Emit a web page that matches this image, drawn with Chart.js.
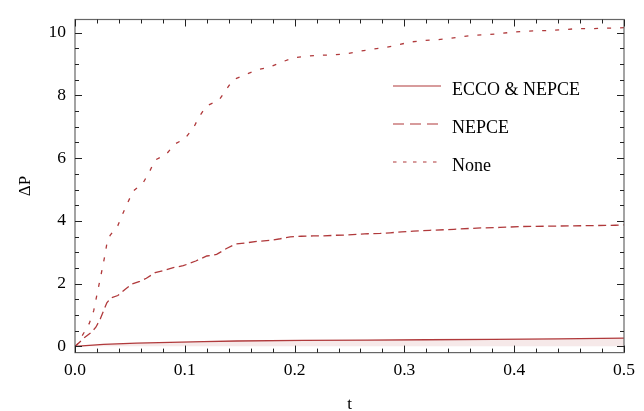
<!DOCTYPE html>
<html lang="en">
<head>
  <meta charset="UTF-8" />
  <title>Delta P vs t</title>
  <script src="https://cdn.jsdelivr.net/npm/chart.js"></script>
  <style>
    html, body { margin: 0; padding: 0; background: #fff; }
    #wrap { width: 644px; height: 411px; position: relative; }
  </style>
</head>
<body>
  <div id="wrap"><canvas id="chart" width="644" height="411"></canvas></div>

  <script>
    // tick labels
    const xTicks = [0, 0.1, 0.2, 0.3, 0.4, 0.5];
    const yTicks = [0, 2, 4, 6, 8, 10];

    // series names
    const seriesNames = ['ECCO & NEPCE', 'NEPCE', 'None'];

    // ECCO & NEPCE (solid)
    const tEcco = [0, 0.026, 0.056, 0.0865, 0.117, 0.147, 0.208, 0.266, 0.32, 0.381, 0.44, 0.5];
    const vEcco = [0, 0.06, 0.10, 0.125, 0.15, 0.17, 0.19, 0.20, 0.21, 0.22, 0.24, 0.26];

    // NEPCE (dashed)
    const tNepce = [0, 0.002, 0.009, 0.015, 0.019, 0.023, 0.026, 0.029, 0.033, 0.039,
      0.0455, 0.052, 0.059, 0.065, 0.073, 0.080, 0.0895, 0.0986, 0.110, 0.120,
      0.129, 0.138, 0.146, 0.156, 0.167, 0.178, 0.187, 0.196, 0.206, 0.217,
      0.226, 0.237, 0.247, 0.2565, 0.267, 0.278, 0.287, 0.2975, 0.308, 0.323,
      0.345, 0.366, 0.387, 0.408, 0.430, 0.451, 0.472, 0.492, 0.5];
    const vNepce = [0, 0.06, 0.29, 0.45, 0.61, 0.87, 1.13, 1.39, 1.55, 1.62,
      1.81, 1.99, 2.07, 2.17, 2.35, 2.41, 2.51, 2.57, 2.72, 2.88,
      2.93, 3.12, 3.26, 3.30, 3.35, 3.38, 3.43, 3.49, 3.51, 3.52,
      3.52, 3.54, 3.55, 3.57, 3.59, 3.60, 3.62, 3.65, 3.67, 3.70,
      3.73, 3.77, 3.79, 3.82, 3.83, 3.84, 3.85, 3.86, 3.87];

    // None (dotted)
    const tNone = [0, 0.002, 0.0076, 0.013, 0.017, 0.020, 0.024, 0.027, 0.029, 0.032,
      0.039, 0.044, 0.048, 0.053, 0.062, 0.068, 0.073, 0.083, 0.091, 0.100,
      0.108, 0.113, 0.120, 0.131, 0.1375, 0.144, 0.155, 0.166, 0.177, 0.188,
      0.199, 0.211, 0.223, 0.235, 0.246, 0.258, 0.270, 0.281, 0.293, 0.305,
      0.317, 0.329, 0.340, 0.352, 0.364, 0.376, 0.387, 0.399, 0.411, 0.424,
      0.436, 0.446, 0.458, 0.471, 0.483, 0.5];
    const vNone = [0, 0.06, 0.4, 0.73, 1.13, 1.65, 2.33, 2.86, 3.27, 3.54,
      3.85, 4.27, 4.58, 4.95, 5.21, 5.58, 5.94, 6.12, 6.45, 6.62,
      6.97, 7.32, 7.67, 7.84, 8.17, 8.5, 8.66, 8.82, 8.9, 9.06,
      9.2, 9.25, 9.28, 9.29, 9.32, 9.4, 9.47, 9.52, 9.6, 9.7,
      9.75, 9.77, 9.81, 9.87, 9.92, 9.94, 9.97, 10.02, 10.05, 10.06,
      10.08, 10.1, 10.13, 10.13, 10.14, 10.16];

    const RED = '#b0393b';
    const FONT = 'Liberation Serif, Times New Roman, serif';
    const pts = (ts, vs) => ts.map((t, i) => ({ x: t, y: vs[i] }));

    // frame with inward ticks on all four sides
    const framePlugin = {
      id: 'frame',
      afterDraw(chart) {
        const { ctx, chartArea: a, scales: { x, y } } = chart;
        ctx.save();
        ctx.strokeStyle = '#666';
        ctx.lineWidth = 1.2;
        ctx.strokeRect(a.left, a.top, a.right - a.left, a.bottom - a.top);
        ctx.strokeStyle = '#222';
        ctx.lineWidth = 1;
        ctx.beginPath();
        for (let i = 0; i <= 25; i++) {
          const v = i * 0.02;
          const px = Math.round(x.getPixelForValue(v)) + 0.5;
          const len = i % 5 === 0 ? 7 : 4;
          ctx.moveTo(px, a.bottom); ctx.lineTo(px, a.bottom - len);
          ctx.moveTo(px, a.top); ctx.lineTo(px, a.top + len);
        }
        for (let i = 0; i <= 20; i++) {
          const v = i * 0.5;
          const py = Math.round(y.getPixelForValue(v)) + 0.5;
          const len = i % 4 === 0 ? 7 : 4;
          ctx.moveTo(a.left, py); ctx.lineTo(a.left + len, py);
          ctx.moveTo(a.right, py); ctx.lineTo(a.right - len, py);
        }
        ctx.stroke();
        ctx.restore();
      }
    };

    // legend inside the plot
    const legendPlugin = {
      id: 'inlineLegend',
      afterDraw(chart) {
        const { ctx } = chart;
        const rows = [
          { lineY: 86, textY: 90, dash: [] },
          { lineY: 124, textY: 128, dash: [11, 6] },
          { lineY: 162, textY: 166, dash: [3.5, 6.5] }
        ];
        ctx.save();
        rows.forEach((r, i) => {
          ctx.strokeStyle = RED;
          ctx.lineWidth = 1.2;
          ctx.setLineDash(r.dash);
          ctx.beginPath();
          ctx.moveTo(393, r.lineY);
          ctx.lineTo(441, r.lineY);
          ctx.stroke();
          ctx.setLineDash([]);
          ctx.fillStyle = '#000';
          ctx.font = '18px ' + FONT;
          ctx.textBaseline = 'middle';
          ctx.textAlign = 'left';
          ctx.fillText(seriesNames[i], 452, r.textY);
        });
        ctx.restore();
      }
    };

    new Chart(document.getElementById('chart'), {
      type: 'line',
      data: {
        datasets: [
          {
            label: seriesNames[0],
            data: pts(tEcco, vEcco),
            borderColor: RED,
            borderWidth: 1.3,
            backgroundColor: 'rgba(176, 57, 59, 0.11)',
            fill: 'origin'
          },
          {
            label: seriesNames[1],
            data: pts(tNepce, vNepce),
            borderColor: RED,
            borderWidth: 1.3,
            borderDash: [8, 4.5],
            fill: false
          },
          {
            label: seriesNames[2],
            data: pts(tNone, vNone),
            borderColor: RED,
            borderWidth: 1.3,
            borderDash: [4, 9],
            fill: false
          }
        ]
      },
      options: {
        responsive: false,
        animation: false,
        devicePixelRatio: 1,
        layout: { padding: { top: 14, right: 20, left: 0, bottom: 0 } },
        elements: { point: { radius: 0 }, line: { tension: 0 } },
        plugins: { legend: { display: false }, tooltip: { enabled: false } },
        scales: {
          x: {
            type: 'linear',
            min: 0,
            max: 0.5,
            afterBuildTicks: s => { s.ticks = xTicks.map(v => ({ value: v })); },
            afterFit: s => { s.height = 58.4; },
            grid: { display: false, drawTicks: false },
            border: { display: false },
            ticks: {
              padding: 7,
              color: '#000',
              maxRotation: 0,
              font: { family: FONT, size: 17.5 },
              callback: v => v.toFixed(1)
            },
            title: {
              display: true,
              text: 't',
              color: '#000',
              font: { family: FONT, size: 17, lineHeight: 1 },
              padding: { top: 0, bottom: -2 }
            }
          },
          y: {
            min: -0.2,
            max: 10.42,
            afterBuildTicks: s => { s.ticks = yTicks.map(v => ({ value: v })); },
            afterFit: s => { s.width = 75; },
            grid: { display: false, drawTicks: false },
            border: { display: false },
            ticks: {
              padding: 9,
              color: '#000',
              font: { family: FONT, size: 17.5 },
              callback: v => String(v)
            },
            title: {
              display: true,
              text: 'ΔP',
              color: '#000',
              font: { family: FONT, size: 17, lineHeight: 1 },
              padding: { top: 17, bottom: 0 }
            }
          }
        }
      },
      plugins: [framePlugin, legendPlugin]
    });
  </script>
</body>
</html>
